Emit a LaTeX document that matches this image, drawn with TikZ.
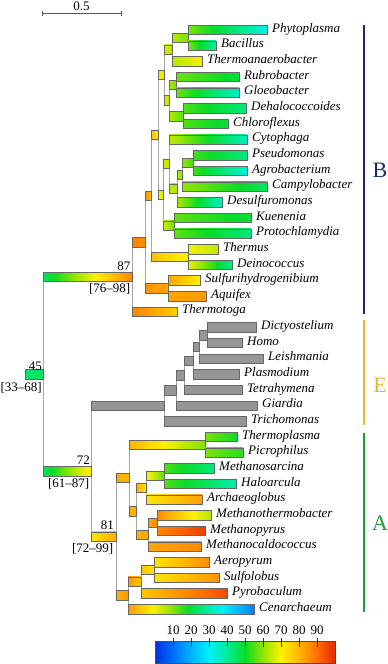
\documentclass[tikz,border=0pt]{standalone}
\usepackage{fontspec}
\setmainfont{Liberation Serif}
\usepackage{tikz}
\usetikzlibrary{calc}

% temperature colour scale
\definecolor{t0}{RGB}{0,50,220}
\definecolor{t10}{RGB}{0,110,255}
\definecolor{t20}{RGB}{0,180,255}
\definecolor{t30}{RGB}{0,240,250}
\definecolor{t40}{RGB}{0,235,150}
\definecolor{t50}{RGB}{10,220,40}
\definecolor{t60}{RGB}{150,230,0}
\definecolor{t70}{RGB}{255,240,0}
\definecolor{t80}{RGB}{255,180,0}
\definecolor{t90}{RGB}{255,110,0}
\definecolor{t100}{RGB}{230,40,0}
\definecolor{eukgray}{RGB}{150,150,150}
\definecolor{cladeB}{RGB}{30,40,120}
\definecolor{cladeE}{RGB}{240,180,40}
\definecolor{cladeA}{RGB}{30,160,50}

\pgfdeclarehorizontalshading{tempmap}{100bp}{color(0bp)=(t0); color(25bp)=(t0);
  color(30bp)=(t10); color(35bp)=(t20); color(40bp)=(t30); color(45bp)=(t40);
  color(50bp)=(t50); color(55bp)=(t60); color(60bp)=(t70); color(65bp)=(t80);
  color(70bp)=(t90); color(75bp)=(t100); color(100bp)=(t100)}

\newdimen\tkd
% inner node: name, x, first child, second child, temperature
\newcommand{\inode}[5]{%
  \path let \p1=($(#3)!.5!(#4)$) in (#2pt,\y1) coordinate (#1);
  \expandafter\xdef\csname tv@#1\endcsname{#5}%
  \draw[vline] (#1 |- #3) -- (#1 |- #4);
}
% branch from parent to child, coloured by temperature
\newcommand{\tbar}[2]{%
  \pgfextractx{\tkd}{\pgfpointanchor{#1}{center}}\edef\xpa{\the\tkd}%
  \pgfextractx{\tkd}{\pgfpointanchor{#2}{center}}\edef\xch{\the\tkd}%
  \pgfextracty{\tkd}{\pgfpointanchor{#2}{center}}\edef\ych{\the\tkd}%
  \edef\vpa{\csname tv@#1\endcsname}%
  \edef\vch{\csname tv@#2\endcsname}%
  \pgfmathsetmacro{\kslope}{(\xch-\xpa)/(\vch-\vpa)}%
  \pgfmathsetmacro{\xlo}{min(\xpa-\vpa*(\kslope),\xpa+(100-\vpa)*(\kslope))}%
  \pgfmathsetmacro{\xhi}{max(\xpa-\vpa*(\kslope),\xpa+(100-\vpa)*(\kslope))}%
  \pgfmathsetmacro{\shang}{\kslope>0 ? 0 : 180}%
  \begin{scope}
    \clip ($(#1 |- #2)+(0,-4.7)$) rectangle ($(#2)+(0,4.7)$);
    \shade[overlay, shading=tempmap, shading angle=\shang] (\xlo pt,\ych-6pt) rectangle (\xhi pt,\ych+6pt);
  \end{scope}
  \draw[barline] ($(#1 |- #2)+(0,-4.7)$) rectangle ($(#2)+(0,4.7)$);
}
\newcommand{\ebar}[2]{\draw[eukbar] ($(#1 |- #2)+(0,-4.7)$) rectangle ($(#2)+(0,4.7)$);}

\begin{document}
\begin{tikzpicture}[x=1pt, y=-1pt,
  vline/.style={draw=black!35, line width=0.9pt},
  barline/.style={draw=black!60, line width=0.5pt},
  eukbar/.style={fill=eukgray, draw=black!60, line width=0.5pt},
  tiplab/.style={anchor=mid west, inner sep=0pt, xshift=5pt, font=\fontsize{13}{15}\selectfont\itshape},
  numlab/.style={inner sep=0pt, font=\fontsize{13}{15}\selectfont},
  cladelab/.style={inner sep=0pt, font=\fontsize{22}{24}\selectfont},
  cladeline/.style={line width=1.2pt}
]
\useasboundingbox (0,0) rectangle (388,664);

% tips
\foreach \nm/\xe/\tv [count=\i from 0] in {Phytoplasma/267/32, Bacillus/216/38,
  Thermoanaerobacter/202/69, Rubrobacter/239/48, Gloeobacter/239/35,
  Dehalococcoides/246/42, Chloroflexus/228/48, Cytophaga/247/36,
  Pseudomonas/247/42, Agrobacterium/247/33, Campylobacter/267/45,
  Desulfuromonas/222/35, Kuenenia/251/48, Protochlamydia/251/42,
  Thermus/218/64, Deinococcus/232/40, Sulfurihydrogenibium/200/70,
  Aquifex/206/84, Thermotoga/177/76, Dictyostelium/256/0, Homo/242/0,
  Leishmania/263/0, Plasmodium/239/0, Tetrahymena/242/0, Giardia/257/0,
  Trichomonas/246/0, Thermoplasma/237/50, Picrophilus/243/52,
  Methanosarcina/214/42, Haloarcula/236/38, Archaeoglobus/202/83,
  Methanothermobacter/211/62, Methanopyrus/205/97, Methanocaldococcus/201/86,
  Aeropyrum/209/86, Sulfolobus/219/85, Pyrobaculum/227/95, Cenarchaeum/254/12}
{
  \coordinate (\nm) at (\xe,30+15.65*\i);
  \expandafter\xdef\csname tv@\nm\endcsname{\tv}
  \node[tiplab] (l\nm) at (\nm) {\nm};
}

% bacteria
\inode{nPhBa}{188}{Phytoplasma}{Bacillus}{58}
\inode{nPBT}{172}{nPhBa}{Thermoanaerobacter}{63}
\inode{nRG}{176}{Rubrobacter}{Gloeobacter}{57}
\inode{nDC}{183}{Dehalococcoides}{Chloroflexus}{55}
\inode{nRGDC}{169}{nRG}{nDC}{63}
\inode{nFirm}{164}{nPBT}{nRGDC}{67}
\inode{nPsAg}{193}{Pseudomonas}{Agrobacterium}{54}
\inode{nPAC}{182}{nPsAg}{Campylobacter}{60}
\inode{nPACD}{177}{nPAC}{Desulfuromonas}{62}
\inode{nCyto}{169}{Cytophaga}{nPACD}{64}
\inode{nKP}{174}{Kuenenia}{Protochlamydia}{56}
\inode{nGram}{163}{nCyto}{nKP}{66}
\inode{nMeso}{158.5}{nFirm}{nGram}{70}
\inode{nTD}{188}{Thermus}{Deinococcus}{69}
\inode{nTDM}{151}{nMeso}{nTD}{78}
\inode{nSA}{168}{Sulfurihydrogenibium}{Aquifex}{82}
\inode{nAq}{145}{nTDM}{nSA}{85}
\inode{nBact}{132}{nAq}{Thermotoga}{87}
% eukaryotes
\inode{nDH}{207}{Dictyostelium}{Homo}{0}
\inode{nDHL}{199.5}{nDH}{Leishmania}{0}
\inode{nDHLP}{193}{nDHL}{Plasmodium}{0}
\inode{nDHLPT}{184}{nDHLP}{Tetrahymena}{0}
\inode{nDHLPTG}{176}{nDHLPT}{Giardia}{0}
\inode{nEuk}{164}{nDHLPTG}{Trichomonas}{0}
% archaea
\inode{nTP}{205}{Thermoplasma}{Picrophilus}{58}
\inode{nMH}{164}{Methanosarcina}{Haloarcula}{55}
\inode{nMHA}{146}{nMH}{Archaeoglobus}{72}
\inode{nMM}{157}{Methanothermobacter}{Methanopyrus}{86}
\inode{nMMM}{148}{nMM}{Methanocaldococcus}{82}
\inode{nEuryB}{136}{nMHA}{nMMM}{81}
\inode{nEury}{129}{nTP}{nEuryB}{80}
\inode{nAS}{154}{Aeropyrum}{Sulfolobus}{72}
\inode{nASP}{141}{nAS}{Pyrobaculum}{77}
\inode{nCren}{128}{nASP}{Cenarchaeum}{84}
\inode{nArch}{116}{nEury}{nCren}{81}
\inode{nAE}{91}{nEuk}{nArch}{72}
\inode{nRoot}{43}{nBact}{nAE}{45}
\path (nRoot) +(-18,0) coordinate (nStem);
\expandafter\xdef\csname tv@nStem\endcsname{44}

% branches
\foreach \p/\c in {nStem/nRoot, nRoot/nBact, nRoot/nAE,
  nBact/nAq, nBact/Thermotoga, nAq/nTDM, nAq/nSA, nSA/Sulfurihydrogenibium,
  nSA/Aquifex, nTDM/nMeso, nTDM/nTD, nTD/Thermus, nTD/Deinococcus,
  nMeso/nFirm, nMeso/nGram, nFirm/nPBT, nFirm/nRGDC, nPBT/nPhBa,
  nPBT/Thermoanaerobacter, nPhBa/Phytoplasma, nPhBa/Bacillus, nRGDC/nRG,
  nRGDC/nDC, nRG/Rubrobacter, nRG/Gloeobacter, nDC/Dehalococcoides,
  nDC/Chloroflexus, nGram/nCyto, nGram/nKP, nCyto/Cytophaga, nCyto/nPACD,
  nPACD/nPAC, nPACD/Desulfuromonas, nPAC/nPsAg, nPAC/Campylobacter,
  nPsAg/Pseudomonas, nPsAg/Agrobacterium, nKP/Kuenenia, nKP/Protochlamydia,
  nAE/nArch, nArch/nEury, nArch/nCren, nEury/nTP, nEury/nEuryB,
  nTP/Thermoplasma, nTP/Picrophilus, nEuryB/nMHA, nEuryB/nMMM, nMHA/nMH,
  nMHA/Archaeoglobus, nMH/Methanosarcina, nMH/Haloarcula, nMMM/nMM,
  nMMM/Methanocaldococcus, nMM/Methanothermobacter, nMM/Methanopyrus,
  nCren/nASP, nCren/Cenarchaeum, nASP/nAS, nASP/Pyrobaculum,
  nAS/Aeropyrum, nAS/Sulfolobus}
  \tbar{\p}{\c};
\foreach \p/\c in {nAE/nEuk, nEuk/nDHLPTG, nEuk/Trichomonas,
  nDHLPTG/nDHLPT, nDHLPTG/Giardia, nDHLPT/nDHLP, nDHLPT/Tetrahymena,
  nDHLP/nDHL, nDHLP/Plasmodium, nDHL/nDH, nDHL/Leishmania,
  nDH/Dictyostelium, nDH/Homo}
  \ebar{\p}{\c};

% posterior temperatures
\node[numlab, anchor=base east] (v45) at (42,370) {45};
\node[numlab, anchor=base east] (c45) at (42,391) {[33--68]};
\node[numlab, anchor=base east] (v87) at (130.5,270) {87};
\node[numlab, anchor=base east] (c87) at (130.5,292) {[76--98]};
\node[numlab, anchor=base east] (v72) at (90,464) {72};
\node[numlab, anchor=base east] (c72) at (89.5,487) {[61--87]};
\node[numlab, anchor=base east] (v81) at (114,529) {81};
\node[numlab, anchor=base east] (c81) at (113.5,552) {[72--99]};

% scale bar
\coordinate (sL) at (42,13);
\coordinate (sR) at (121,13);
\draw[black!65, line width=0.8pt] (sL) -- (sR);
\draw[black!65, line width=0.8pt] (sL) ++(0,-2.5) -- ++(0,5);
\draw[black!65, line width=0.8pt] (sR) ++(0,-2.5) -- ++(0,5);
\node[numlab, anchor=base] (sLab) at (81.5,10) {0.5};

% clades
\coordinate (Btop) at (364,25);
\coordinate (Bbot) at (364,314);
\coordinate (Etop) at (364,320);
\coordinate (Ebot) at (364,425);
\coordinate (Atop) at (364,433);
\coordinate (Abot) at (364,612);
\draw[cladeline, cladeB] (Btop) -- (Bbot);
\draw[cladeline, cladeE] (Etop) -- (Ebot);
\draw[cladeline, cladeA] (Atop) -- (Abot);
\node[cladelab, text=cladeB] (labB) at (380,170.5) {B};
\node[cladelab, text=cladeE] (labE) at (380,385) {E};
\node[cladelab, text=cladeA] (labA) at (380,523.5) {A};

% colour key
\coordinate (cbL) at (155,641);
\coordinate (cbR) at (335,663.5);
\shadedraw[shading=tempmap, draw=black!70, line width=0.5pt] (cbL) rectangle (cbR);
\foreach \v in {10,20,...,90} {
  \draw[black!80, line width=0.5pt] ($(cbL)+(1.8*\v,-3)$) -- ++(0,9);
  \node[numlab, anchor=base] (cbn\v) at ($(cbL)+(1.8*\v,-7)$) {\v};
}
\end{tikzpicture}
\end{document}
